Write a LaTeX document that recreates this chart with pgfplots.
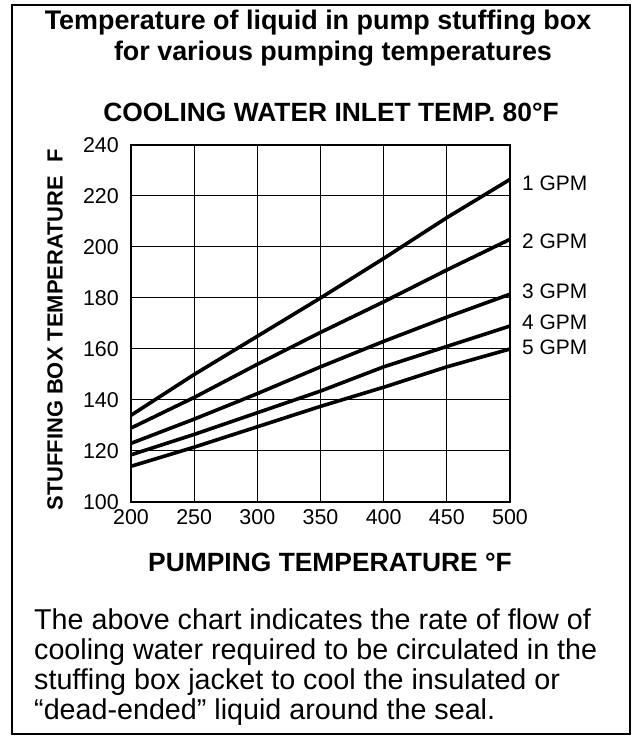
\documentclass[border=0pt]{standalone}
\usepackage{pgfplots}
\pgfplotsset{compat=1.18}
\usepackage{fontspec}
\setmainfont{Liberation Sans}
\newcommand{\fs}[1]{\fontsize{#1}{#1}\selectfont}
\begin{document}
\begin{tikzpicture}[x=1bp,y=1bp]
\useasboundingbox (0,0) rectangle (636,736);
\draw[line width=2bp] (12,2) rectangle (630,731);
\node[font=\bfseries\fs{27}] at (318,713) {Temperature of liquid in pump stuffing box};
\node[font=\bfseries\fs{27}] at (333,682) {for various pumping temperatures};
\node[font=\bfseries\fs{26.5}] at (331,624) {COOLING WATER INLET TEMP. 80°F};
\node[font=\bfseries\fs{26.5}] at (330,174) {PUMPING TEMPERATURE °F};
\node[font=\bfseries\fs{22},rotate=90] at (55,406) {STUFFING BOX TEMPERATURE\hspace{0.6em}F};
\node[font=\fs{28.8},anchor=base west,inner sep=0pt] at (34,106) {The above chart indicates the rate of flow of};
\node[font=\fs{28.8},anchor=base west,inner sep=0pt] at (34,76) {cooling water required to be circulated in the};
\node[font=\fs{28.8},anchor=base west,inner sep=0pt] at (34,46) {stuffing box jacket to cool the insulated or};
\node[font=\fs{28.8},anchor=base west,inner sep=0pt] at (34,16) {``dead-ended'' liquid around the seal.};
\begin{axis}[
  at={(131bp,234bp)}, anchor=south west,
  scale only axis, width=379bp, height=357bp,
  xmin=200, xmax=500, ymin=100, ymax=240,
  xtick={200,250,...,500}, ytick={100,120,...,240},
  grid=major,
  grid style={black, line width=1bp},
  axis line style={line width=2.6bp},
  major tick length=0pt,
  tick label style={font=\fs{21.5}, inner sep=0pt},
  /pgf/number format/assume math mode=true,
  yticklabel shift=12bp,
  xticklabel shift=7bp,
  clip=false,
]
\addplot[black, no markers, line width=3.6bp, line join=round] coordinates {(200,134) (250,150) (300,165) (350,180) (400,195.5) (450,211.5) (500,226.5)};
\addplot[black, no markers, line width=3.6bp, line join=round] coordinates {(200,129) (250,141) (300,154) (350,166.5) (400,178.5) (450,191) (500,203)};
\addplot[black, no markers, line width=3.6bp, line join=round] coordinates {(200,123) (250,132.5) (300,142.5) (350,153) (400,163) (450,172.5) (500,181.5)};
\addplot[black, no markers, line width=3.6bp, line join=round] coordinates {(200,118.5) (250,126.5) (300,135) (350,143.5) (400,153) (450,161) (500,169)};
\addplot[black, no markers, line width=3.6bp, line join=round] coordinates {(200,114) (250,121.5) (300,129.5) (350,137.5) (400,145) (450,153) (500,160)};
\node[anchor=west,font=\fs{21},inner sep=0pt] at (axis cs:500,225) {\hspace{12bp}1 GPM};
\node[anchor=west,font=\fs{21},inner sep=0pt] at (axis cs:500,202.4) {\hspace{12bp}2 GPM};
\node[anchor=west,font=\fs{21},inner sep=0pt] at (axis cs:500,182.7) {\hspace{12bp}3 GPM};
\node[anchor=west,font=\fs{21},inner sep=0pt] at (axis cs:500,170.6) {\hspace{12bp}4 GPM};
\node[anchor=west,font=\fs{21},inner sep=0pt] at (axis cs:500,160.8) {\hspace{12bp}5 GPM};
\end{axis}
\end{tikzpicture}
\end{document}
